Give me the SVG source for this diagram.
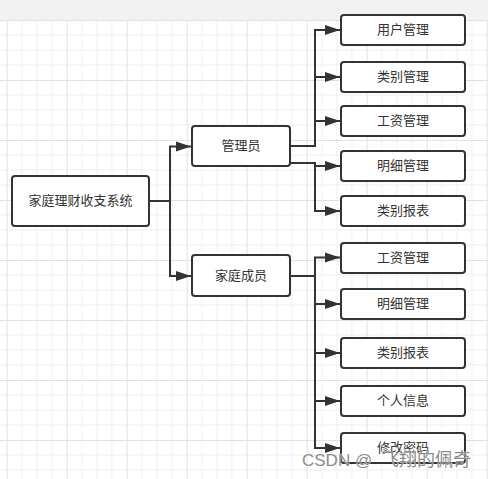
<svg xmlns="http://www.w3.org/2000/svg" width="488" height="479" viewBox="0 0 488 479">
<defs>
<pattern id="grid" patternUnits="userSpaceOnUse" x="6.7" y="20" width="60" height="60">
<path d="M15,0V60M30,0V60M45,0V60M0,15H60M0,30H60M0,45H60" stroke="#efefef" stroke-width="1" fill="none"/>
<path d="M0.5,0V60M0,0.5H60" stroke="#e2e2e2" stroke-width="1" fill="none"/>
</pattern>
<marker id="arr" markerUnits="userSpaceOnUse" markerWidth="16" markerHeight="12" refX="15" refY="5.5" orient="auto">
<path d="M0,0.5 L15,5.5 L0,10.5 z" fill="#333"/>
</marker>
<style>
.node rect{fill:#fff;stroke:#333;stroke-width:2}
.node text{font-family:"Noto Sans CJK SC","Microsoft YaHei",sans-serif;font-size:13px;fill:#333;text-anchor:middle}
.edges path{fill:none;stroke:#333;stroke-width:2}
.wm{font-family:"Liberation Sans","Noto Sans CJK SC",sans-serif;font-size:17px;fill:#8c8c8c;stroke:#fff;stroke-width:0.4;paint-order:stroke}
</style>
</defs>
<rect x="0" y="0" width="488" height="479" fill="#fff"/>
<rect x="0" y="20" width="488" height="459" fill="url(#grid)"/>
<rect x="0" y="0" width="488" height="20" fill="#f2f2f2"/>
<g class="edges">
<path d="M149,201 H170 V146.5 H191" marker-end="url(#arr)"/>
<path d="M170,201 V276 H191" marker-end="url(#arr)"/>
<path d="M290,146 H315 V30 H340" marker-end="url(#arr)"/>
<path d="M315,146 V77 H340" marker-end="url(#arr)"/>
<path d="M315,146 V121 H340" marker-end="url(#arr)"/>
<path d="M290,163 H315 V166 H340" marker-end="url(#arr)"/>
<path d="M315,163 V211 H340" marker-end="url(#arr)"/>
<path d="M290,276 H315 V257.5 H340" marker-end="url(#arr)"/>
<path d="M315,276 V304 H340" marker-end="url(#arr)"/>
<path d="M315,276 V353 H340" marker-end="url(#arr)"/>
<path d="M315,276 V401 H340" marker-end="url(#arr)"/>
<path d="M315,276 V448 H340" marker-end="url(#arr)"/>
</g>
<g id="root" class="node"><rect x="12" y="176" width="137" height="50" rx="3"/><text x="80.5" y="205">家庭理财收支系统</text></g>
<g id="admin" class="node"><rect x="192" y="126" width="98" height="40" rx="3"/><text x="241" y="150">管理员</text></g>
<g id="member" class="node"><rect x="192" y="255" width="98" height="41" rx="3"/><text x="241" y="279.5">家庭成员</text></g>
<g id="a1" class="node"><rect x="341" y="15" width="124" height="30" rx="3"/><text x="403" y="34">用户管理</text></g>
<g id="a2" class="node"><rect x="341" y="62" width="124" height="30" rx="3"/><text x="403" y="81">类别管理</text></g>
<g id="a3" class="node"><rect x="341" y="106" width="124" height="30" rx="3"/><text x="403" y="125">工资管理</text></g>
<g id="a4" class="node"><rect x="341" y="151" width="124" height="30" rx="3"/><text x="403" y="170">明细管理</text></g>
<g id="a5" class="node"><rect x="341" y="196" width="124" height="30" rx="3"/><text x="403" y="215">类别报表</text></g>
<g id="m1" class="node"><rect x="341" y="243" width="124" height="30" rx="3"/><text x="403" y="262">工资管理</text></g>
<g id="m2" class="node"><rect x="341" y="289" width="124" height="30" rx="3"/><text x="403" y="308">明细管理</text></g>
<g id="m3" class="node"><rect x="341" y="338" width="124" height="30" rx="3"/><text x="403" y="357">类别报表</text></g>
<g id="m4" class="node"><rect x="341" y="386" width="124" height="30" rx="3"/><text x="403" y="405">个人信息</text></g>
<g id="m5" class="node"><rect x="341" y="433" width="124" height="30" rx="3"/><text x="403" y="452">修改密码</text></g>
<text class="wm" x="302" y="466">CSDN @<tspan x="381" font-family="Noto Sans CJK SC, sans-serif" font-size="18">飞翔的佩奇</tspan></text>
</svg>
